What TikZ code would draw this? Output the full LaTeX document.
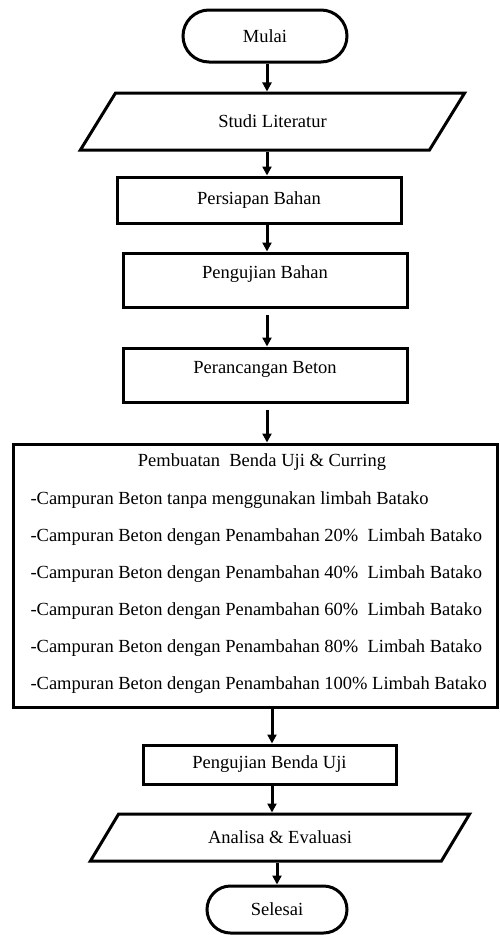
\documentclass[tikz,border=0pt]{standalone}
\usepackage{fontspec}
\setmainfont{Liberation Serif}
\usepackage{tikz}
\usetikzlibrary{arrows.meta}
\tikzset{>={Triangle[width=9pt,length=9pt]}}
\usetikzlibrary{shapes.geometric,shapes.misc,positioning}
\tikzset{
    every node/.style={font=\fontsize{18.5}{22}\selectfont},
    terminal/.style={draw,rounded rectangle,line width=3pt,inner sep=0pt},
    process/.style={draw,rectangle,line width=3pt,inner sep=0pt},
    io/.style={draw,trapezium,trapezium stretches=true,line width=3pt,inner sep=0pt},
    flow/.style={->,line width=3pt}
}

\begin{document}
\begin{tikzpicture}[x=1pt,y=-1pt]
    \useasboundingbox (0,0) rectangle (499,935);
    \node[terminal,minimum width=164,minimum height=52] at (265,36) (5d1e0a01) {Mulai};
    \node[io,minimum width=385,minimum height=57,trapezium left angle=47,trapezium right angle=133] at (272.5,121.5) (5d1e0a02) {Studi Literatur};
    \node[process,minimum width=284,minimum height=46] at (259,200) (5d1e0a03) {Persiapan Bahan};
    \node[process,minimum width=284,minimum height=54,text depth=16pt] at (265,280) (5d1e0a04) {Pengujian Bahan};
    \node[process,minimum width=284,minimum height=54,text depth=16pt] at (265,375) (5d1e0a05) {Perancangan Beton};
    \node[process,minimum width=484,minimum height=263] at (255,575.5) (5d1e0a06) {};
    \node at (262,462) (5d1e0a07) {Pembuatan\ \ Benda Uji \& Curring};
    \node[anchor=west] at (27,500) (5d1e0a08) {-Campuran Beton tanpa menggunakan limbah Batako};
    \node[anchor=west] at (27,537) (5d1e0a09) {-Campuran Beton dengan Penambahan 20\%\ \ Limbah Batako};
    \node[anchor=west] at (27,574) (5d1e0a10) {-Campuran Beton dengan Penambahan 40\%\ \ Limbah Batako};
    \node[anchor=west] at (27,611) (5d1e0a11) {-Campuran Beton dengan Penambahan 60\%\ \ Limbah Batako};
    \node[anchor=west] at (27,648) (5d1e0a12) {-Campuran Beton dengan Penambahan 80\%\ \ Limbah Batako};
    \node[anchor=west] at (27,685) (5d1e0a13) {-Campuran Beton dengan Penambahan 100\% Limbah Batako};
    \node[process,minimum width=253,minimum height=39] at (269.5,764.5) (5d1e0a14) {Pengujian Benda Uji};
    \node[io,minimum width=380,minimum height=47,trapezium left angle=46,trapezium right angle=134] at (280,837.5) (5d1e0a15) {Analisa \& Evaluasi};
    \node[terminal,minimum width=140,minimum height=47] at (277,909.5) (5d1e0a16) {Selesai};
    \coordinate (sp1) at (267,0);
    \coordinate (sp2) at (272,0);
    \coordinate (sp3) at (277,0);
    \path[flow]
    (sp1 |- 5d1e0a01.south) edge (sp1 |- 5d1e0a02.north)
    (sp1 |- 5d1e0a02.south) edge (sp1 |- 5d1e0a03.north)
    (sp1 |- 5d1e0a03.south) edge (sp1 |- 5d1e0a04.north)
    ([yshift=-6pt]sp1 |- 5d1e0a04.south) edge (sp1 |- 5d1e0a05.north)
    ([yshift=-6pt]sp1 |- 5d1e0a05.south) edge (sp1 |- 5d1e0a06.north)
    (sp2 |- 5d1e0a06.south) edge (sp2 |- 5d1e0a14.north)
    (sp2 |- 5d1e0a14.south) edge (sp2 |- 5d1e0a15.north)
    (sp3 |- 5d1e0a15.south) edge (sp3 |- 5d1e0a16.north)
    ;
\end{tikzpicture}
\end{document}
